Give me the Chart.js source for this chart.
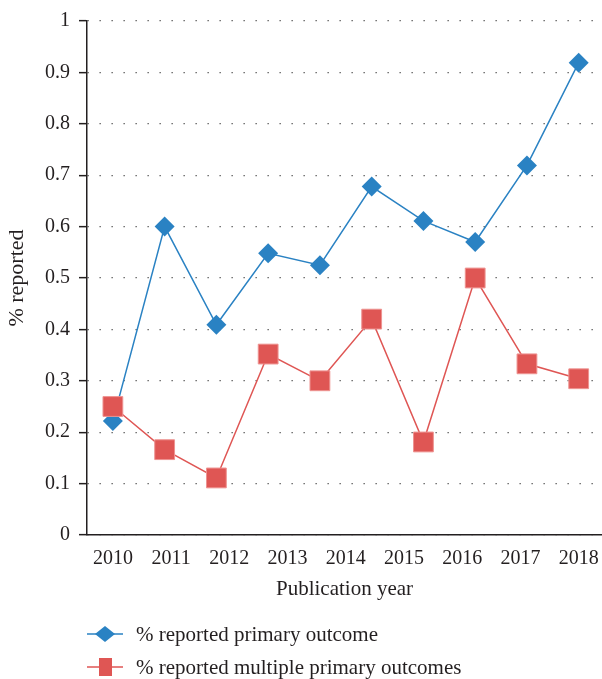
<!DOCTYPE html>
<html>
<head>
<meta charset="utf-8">
<script src="https://cdn.jsdelivr.net/npm/chart.js@4.4.1/dist/chart.umd.min.js"></script>
<style>
  html, body { margin: 0; padding: 0; background: #fff; }
  #wrap { width: 602px; height: 679px; }
</style>
</head>
<body>
<div id="wrap"><canvas id="chart" width="602" height="679"></canvas></div>
<script>
// values (10 points, 9 year labels)
const primaryOutcome = [0.222, 0.600, 0.409, 0.548, 0.525, 0.678, 0.611, 0.570, 0.719, 0.919];
const multipleOutcomes = [0.250, 0.166, 0.111, 0.352, 0.300, 0.420, 0.181, 0.500, 0.333, 0.304];
const yearLabels = ['2010', '2011', '2012', '2013', '2014', '2015', '2016', '2017', '2018'];
const seriesNames = ['% reported primary outcome', '% reported multiple primary outcomes'];

const BLUE = '#2a82c3';
const RED = '#df5654';
const INK = '#231f20';
const SERIF = '"Liberation Serif", "DejaVu Serif", serif';

function toPoints(values) {
    return values.map((v, i) => ({ x: i, y: v }));
}

// legend drawn below the plot: line + marker + label
const lineLegend = {
    id: 'lineLegend',
    afterDraw(chart) {
        const ctx = chart.ctx;
        const rows = [
            { y: 634, color: BLUE, text: seriesNames[0], marker: 'diamond' },
            { y: 667, color: RED, text: seriesNames[1], marker: 'square' }
        ];
        ctx.save();
        rows.forEach(r => {
            ctx.strokeStyle = r.color;
            ctx.lineWidth = 1.5;
            ctx.beginPath();
            ctx.moveTo(87, r.y);
            ctx.lineTo(123, r.y);
            ctx.stroke();
            ctx.fillStyle = r.color;
            ctx.beginPath();
            if (r.marker === 'diamond') {
                ctx.moveTo(105, r.y - 8);
                ctx.lineTo(115, r.y);
                ctx.lineTo(105, r.y + 8);
                ctx.lineTo(95, r.y);
                ctx.closePath();
            } else {
                ctx.rect(99, r.y - 9, 13, 18);
            }
            ctx.fill();
            ctx.fillStyle = INK;
            ctx.font = '21px ' + SERIF;
            ctx.textBaseline = 'middle';
            ctx.textAlign = 'left';
            ctx.fillText(r.text, 136, r.y + 1);
        });
        ctx.restore();
    }
};

const ctx = document.getElementById('chart').getContext('2d');
new Chart(ctx, {
    type: 'line',
    data: {
        datasets: [{
            label: seriesNames[0],
            data: toPoints(primaryOutcome),
            borderColor: BLUE,
            backgroundColor: BLUE,
            borderWidth: 1.5,
            pointStyle: 'rectRot',
            pointRadius: 10,
            pointBorderWidth: 0,
            pointBackgroundColor: BLUE,
            tension: 0,
            clip: false,
            order: 2
        }, {
            label: seriesNames[1],
            data: toPoints(multipleOutcomes),
            borderColor: RED,
            backgroundColor: RED,
            borderWidth: 1.5,
            pointStyle: 'rect',
            pointRadius: 14,
            pointBorderWidth: 1,
            pointBorderColor: '#ee9391',
            pointBackgroundColor: RED,
            tension: 0,
            clip: false,
            order: 1
        }]
    },
    options: {
        responsive: false,
        animation: false,
        events: [],
        layout: { autoPadding: false, padding: { left: 0, top: 21, right: 0, bottom: 74 } },
        plugins: {
            legend: { display: false },
            tooltip: { enabled: false }
        },
        scales: {
            x: {
                type: 'linear',
                min: -0.5,
                max: 9.45,
                grid: { display: false, drawTicks: false },
                border: { display: true, color: INK, width: 1.5 },
                afterBuildTicks(scale) {
                    scale.ticks = yearLabels.map((_, i) => ({ value: i * 9 / 8 }));
                },
                afterFit(scale) {
                    scale.height = 70;
                    scale.paddingLeft = 0;
                    scale.paddingRight = 0;
                },
                ticks: {
                    autoSkip: false,
                    maxRotation: 0,
                    padding: 12,
                    color: INK,
                    font: { family: SERIF, size: 20 },
                    callback: (value, index) => yearLabels[index]
                },
                title: {
                    display: true,
                    text: 'Publication year',
                    color: INK,
                    font: { family: SERIF, size: 21 },
                    padding: { top: 0, bottom: 3 }
                }
            },
            y: {
                min: 0,
                max: 1,
                grid: {
                    color: '#555',
                    lineWidth: 1.3,
                    drawTicks: true,
                    tickLength: 8,
                    tickColor: INK,
                    tickWidth: 1.5
                },
                border: { display: true, color: INK, width: 1.5, dash: [1.3, 10.7] },
                afterFit(scale) {
                    scale.width = 87;
                    scale.paddingTop = 0;
                    scale.paddingBottom = 0;
                },
                ticks: {
                    stepSize: 0.1,
                    padding: 9,
                    color: INK,
                    font: { family: SERIF, size: 20 },
                    callback: v => String(Math.round(v * 10) / 10)
                },
                title: {
                    display: true,
                    text: '% reported',
                    color: INK,
                    font: { family: SERIF, size: 22 },
                    padding: { top: 4, bottom: 0 }
                }
            }
        }
    },
    plugins: [lineLegend]
});
</script>
</body>
</html>
